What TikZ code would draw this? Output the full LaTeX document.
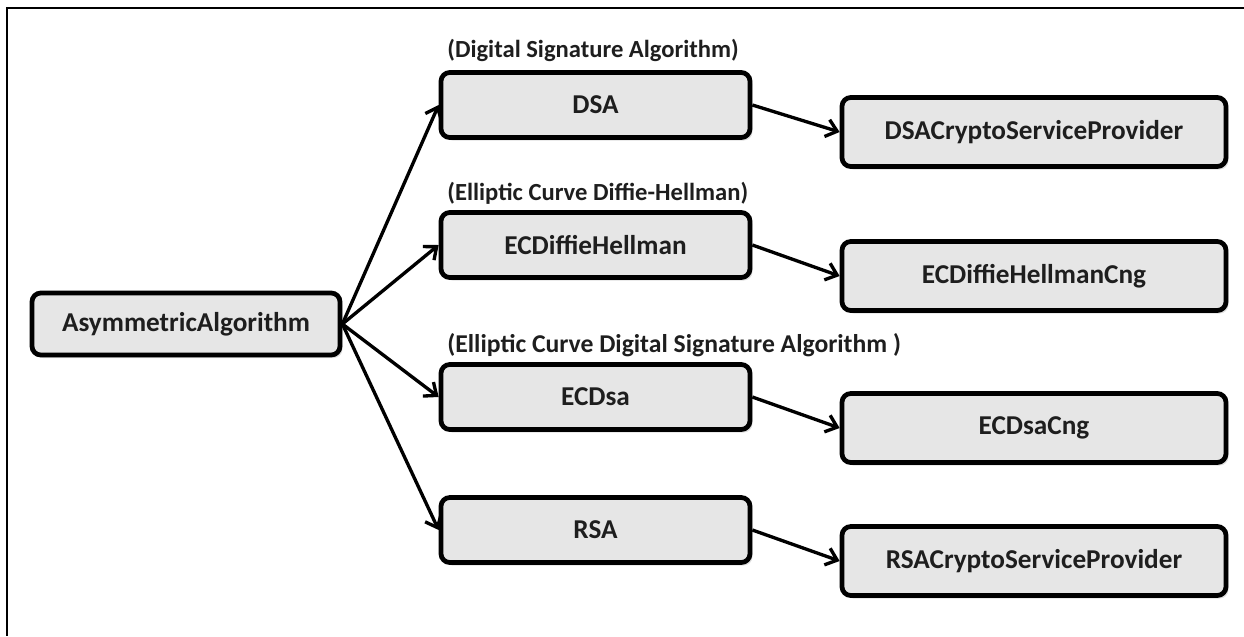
\documentclass[tikz,border=0pt]{standalone}
\usepackage{fontspec}
\setmainfont{Carlito}
\usepackage{xcolor}
\usepackage{tikz}
\usetikzlibrary{positioning, arrows.meta, shadows}

\definecolor{boxfill}{RGB}{230,230,230}
\definecolor{inktext}{RGB}{30,30,30}

\tikzset{
  algbox/.style={draw=black, line width=2.7pt, rounded corners=5pt,
    fill=boxfill, text=inktext, font=\fontsize{15.5}{18}\selectfont\bfseries,
    drop shadow={opacity=0.25, shadow xshift=0.05cm, shadow yshift=-0.06cm},
    inner sep=0pt},
  rootbox/.style={algbox, minimum width=6.16cm, minimum height=1.24cm},
  midbox/.style={algbox, minimum width=6.18cm, minimum height=1.30cm},
  leafbox/.style={algbox, minimum width=7.68cm, minimum height=1.38cm},
  fullname/.style={anchor=west, inner sep=0pt, text=inktext,
    font=\fontsize{14}{16}\selectfont\bfseries},
  arr/.style={line width=1.9pt, -{Straight Barb[length=6pt, width=10pt, line width=1.9pt]}}
}

\begin{document}
\begin{tikzpicture}
  \useasboundingbox (0,0) rectangle (24.88,-12.72);
  % Frame (top and left edges only)
  \draw[line width=1.1pt] (24.88,-0.16) -- (0.14,-0.16) -- (0.14,-12.72);
  % Base class
  \node[rootbox] (asym) at (3.72,-6.48) {AsymmetricAlgorithm};
  % Middle column
  \foreach \nm/\y/\txt in {dsa/-2.10/DSA, ecdh/-4.90/ECDiffieHellman,
                           ecdsa/-7.94/ECDsa, rsa/-10.60/RSA}{
    \node[midbox] (\nm) at (11.91,\y) {\txt};
  }
  % Right column
  \foreach \nm/\y/\txt in {dsacsp/-2.64/DSACryptoServiceProvider,
                           ecdhcng/-5.52/ECDiffieHellmanCng,
                           ecdsacng/-8.56/ECDsaCng,
                           rsacsp/-11.22/RSACryptoServiceProvider}{
    \node[leafbox] (\nm) at (20.68,\y) {\txt};
  }
  % Full names
  \node[fullname] (dsaname) at (8.94,-1.00) {(Digital Signature Algorithm)};
  \node[fullname] (ecdhname) at (8.94,-3.86) {(Elliptic Curve Diffie-Hellman)};
  \node[fullname, font=\fontsize{14.6}{16}\selectfont\bfseries] (ecdsaname)
    at (8.94,-6.90) {(Elliptic Curve Digital Signature Algorithm )};
  % Connectors
  \foreach \b in {dsa, ecdh, ecdsa, rsa}{
    \draw[arr] (asym.east) -- (\b.west);
  }
  \foreach \a/\b in {dsa/dsacsp, ecdh/ecdhcng, ecdsa/ecdsacng, rsa/rsacsp}{
    \draw[arr] (\a.east) -- (\b.west);
  }
\end{tikzpicture}
\end{document}
